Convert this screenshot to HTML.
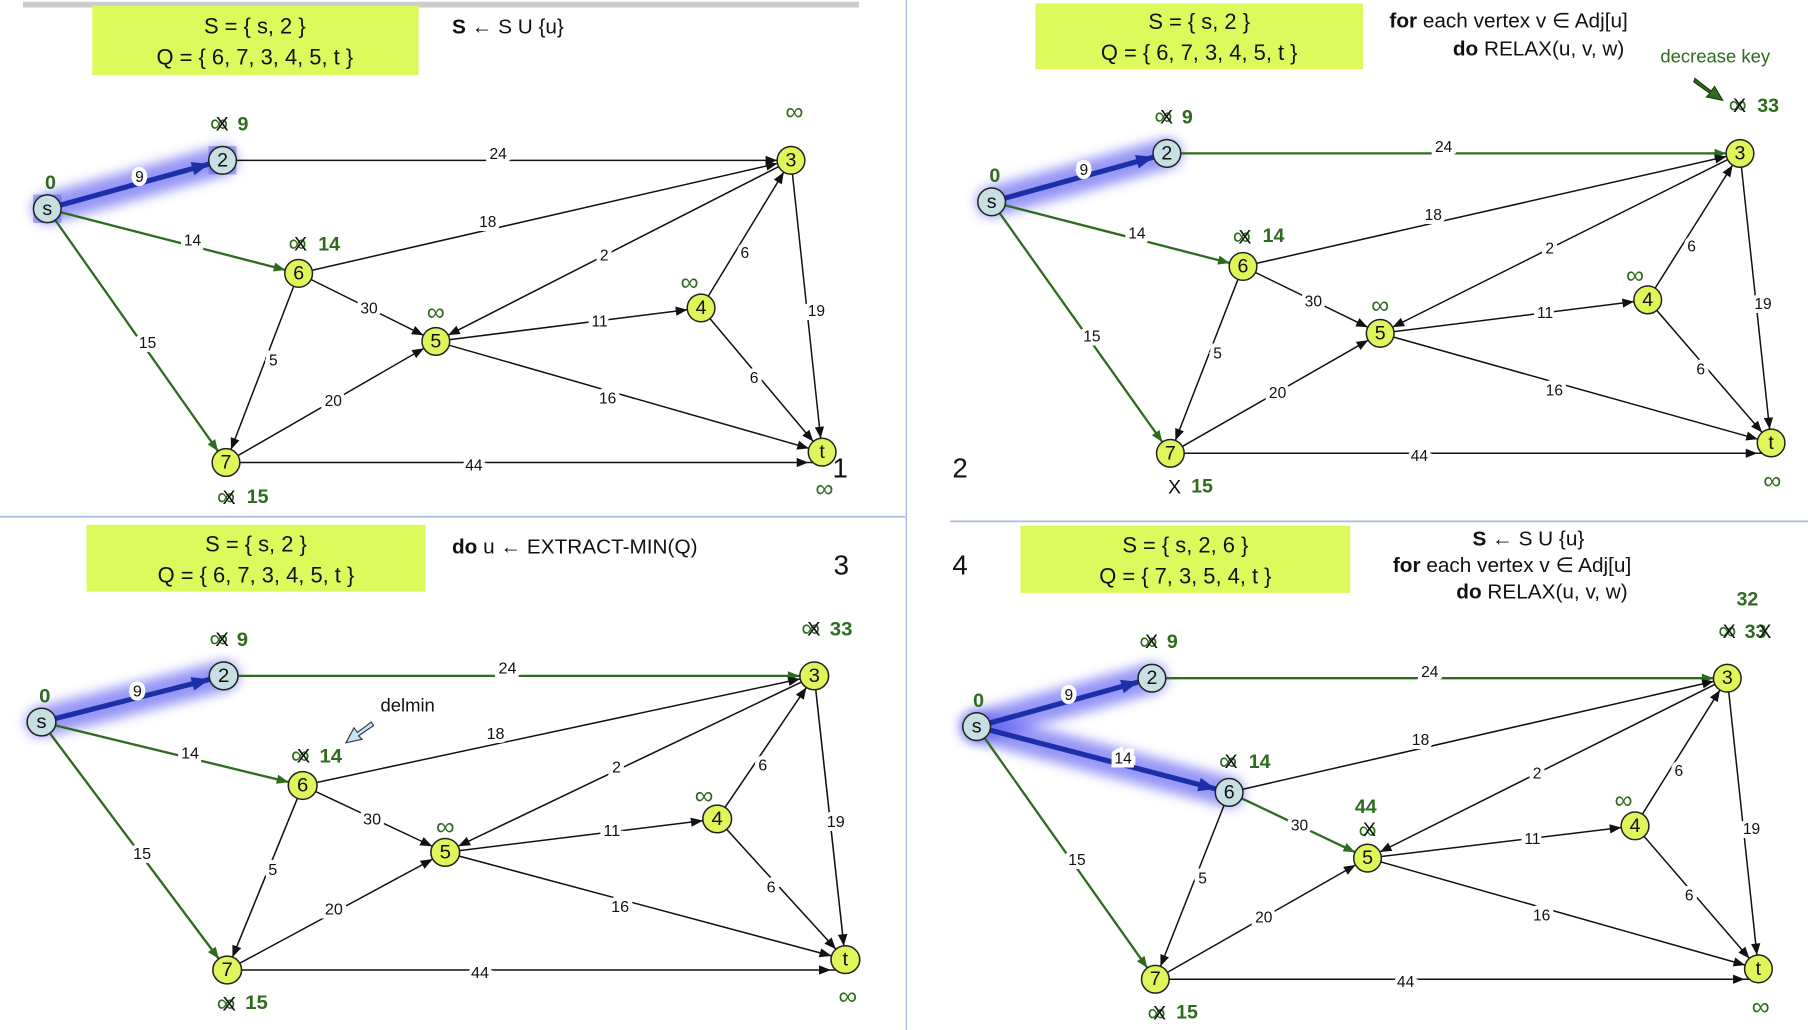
<!DOCTYPE html>
<html><head><meta charset="utf-8"><style>
html,body{margin:0;padding:0;background:#fff;}
svg{display:block;font-family:"Liberation Sans","DejaVu Sans",sans-serif;}
.k{stroke:#111;stroke-width:1.3;marker-end:url(#ak);fill:none}
.g{stroke:#2f6b1f;stroke-width:2;marker-end:url(#ag);fill:none}
.b{stroke:#1a2fa8;stroke-width:4.5;marker-end:url(#ab);fill:none}
.gl{stroke:#5050f0;stroke-width:26;opacity:.6;stroke-linecap:round;filter:url(#bl)}
.el{font-size:13.5px;text-anchor:middle;dominant-baseline:central;paint-order:stroke;stroke:#fff;stroke-width:7px;fill:#111}
.n{stroke:#222;stroke-width:1.3;fill:#e0f55a;r:12px}
.nb{stroke:#222;stroke-width:1.3;fill:#c6dfe3;r:12px}
.nt{font-size:17px;text-anchor:middle;dominant-baseline:central;fill:#111}
.d{font-size:17px;font-weight:bold;fill:#2f6b1f}
.inf{font-size:22px;fill:#2f6b1f;text-anchor:middle}
.x{font-size:17px;fill:#111}
.bx{fill:#dcfa5c}
.bt{font-size:19px;text-anchor:middle;fill:#111}
.tt{font-size:18px;fill:#111}
.big{font-size:24px;fill:#111}
</style></head><body>
<svg width="1808" height="1030" viewBox="0 0 1568 893" preserveAspectRatio="none">
<defs>
<marker id="ak" markerUnits="userSpaceOnUse" markerWidth="40" markerHeight="20" refX="22" refY="4" orient="auto" viewBox="0 0 40 20" overflow="visible"><path d="M0,0 L10,4 L0,8z" fill="#111"/></marker>
<marker id="ag" markerUnits="userSpaceOnUse" markerWidth="40" markerHeight="20" refX="22" refY="4" orient="auto" viewBox="0 0 40 20" overflow="visible"><path d="M0,0 L10,4 L0,8z" fill="#2f6b1f"/></marker>
<marker id="ab" markerUnits="userSpaceOnUse" markerWidth="40" markerHeight="20" refX="27" refY="6" orient="auto" viewBox="0 0 40 20" overflow="visible"><path d="M0,0 L15,6 L0,12z" fill="#1a2fa8"/></marker>
<filter id="bl" x="-50%" y="-50%" width="200%" height="200%"><feGaussianBlur stdDeviation="5"/></filter>
</defs>
<line x1="20" y1="4" x2="745" y2="4" stroke="#ccc" stroke-width="5"/>
<line x1="786" y1="0" x2="786" y2="893" stroke="#a8bde0" stroke-width="1.2"/>
<line x1="0" y1="448" x2="785" y2="448" stroke="#a8bde0" stroke-width="1.5"/>
<line x1="824" y1="452" x2="1568" y2="452" stroke="#a8bde0" stroke-width="1.5"/>

<!-- Q1 -->
<g>
<rect class="bx" x="80" y="5" width="283" height="60"/>
<text class="bt" x="221" y="29">S = { s, 2 }</text>
<text class="bt" x="221" y="56">Q = { 6, 7, 3, 4, 5, t }</text>
<text class="tt" x="392" y="29"><tspan font-weight="bold">S</tspan> ← S U {u}</text>
<text class="big" x="722" y="414">1</text>
<circle class="gl" cx="41" cy="181" r="6"/><circle class="gl" cx="193" cy="139" r="6"/>
<line class="gl" x1="41" y1="181" x2="193" y2="139"/>
<line class="b" x1="41" y1="181" x2="193" y2="139"/>
<line class="k" x1="193" y1="139" x2="686" y2="139"/>
<line class="g" x1="41" y1="181" x2="259" y2="237"/>
<line class="g" x1="41" y1="181" x2="196" y2="401"/>
<line class="k" x1="259" y1="237" x2="686" y2="139"/>
<line class="k" x1="259" y1="237" x2="378" y2="296"/>
<line class="k" x1="259" y1="237" x2="196" y2="401"/>
<line class="k" x1="686" y1="139" x2="378" y2="296"/>
<line class="k" x1="608" y1="267" x2="686" y2="139"/>
<line class="k" x1="378" y1="296" x2="608" y2="267"/>
<line class="k" x1="686" y1="139" x2="713" y2="392"/>
<line class="k" x1="608" y1="267" x2="713" y2="392"/>
<line class="k" x1="378" y1="296" x2="713" y2="392"/>
<line class="k" x1="196" y1="401" x2="378" y2="296"/>
<line class="k" x1="196" y1="401" x2="713" y2="401"/>
<text class="el" x="121" y="154">9</text><text class="el" x="432" y="134">24</text><text class="el" x="167" y="209">14</text>
<text class="el" x="128" y="298">15</text><text class="el" x="423" y="193">18</text><text class="el" x="320" y="268">30</text>
<text class="el" x="237" y="313">5</text><text class="el" x="524" y="222">2</text><text class="el" x="646" y="220">6</text>
<text class="el" x="520" y="279">11</text><text class="el" x="708" y="270">19</text><text class="el" x="654" y="328">6</text>
<text class="el" x="527" y="346">16</text><text class="el" x="289" y="348">20</text><text class="el" x="411" y="404">44</text>
<circle class="nb" cx="41" cy="181" r="12"/><text class="nt" x="41" y="181">s</text>
<circle class="nb" cx="193" cy="139" r="12"/><text class="nt" x="193" y="139">2</text>
<circle class="n" cx="686" cy="139" r="12"/><text class="nt" x="686" y="139">3</text>
<circle class="n" cx="259" cy="237" r="12"/><text class="nt" x="259" y="237">6</text>
<circle class="n" cx="378" cy="296" r="12"/><text class="nt" x="378" y="296">5</text>
<circle class="n" cx="608" cy="267" r="12"/><text class="nt" x="608" y="267">4</text>
<circle class="n" cx="196" cy="401" r="12"/><text class="nt" x="196" y="401">7</text>
<circle class="n" cx="713" cy="392" r="12"/><text class="nt" x="713" y="392">t</text>
<text class="d" x="39" y="164">0</text>
<text class="inf" x="190" y="114">∞</text><text class="x" x="187" y="113">X</text><text class="d" x="206" y="113">9</text>
<text class="inf" x="258" y="218">∞</text><text class="x" x="255" y="217">X</text><text class="d" x="276" y="217">14</text>
<text class="inf" x="196" y="438">∞</text><text class="x" x="193" y="437">X</text><text class="d" x="214" y="436">15</text>
<text class="inf" x="689" y="104">∞</text><text class="inf" x="378" y="278">∞</text><text class="inf" x="598" y="252">∞</text><text class="inf" x="715" y="431">∞</text>
</g>

<!-- Q2 -->
<g>
<rect class="bx" x="898" y="3" width="284" height="57"/>
<text class="bt" x="1040" y="25">S = { s, 2 }</text>
<text class="bt" x="1040" y="52">Q = { 6, 7, 3, 4, 5, t }</text>
<text class="tt" x="1205" y="24"><tspan font-weight="bold">for</tspan> each vertex v ∈ Adj[u]</text>
<text class="tt" x="1260" y="48"><tspan font-weight="bold">do</tspan> RELAX(u, v, w)</text>
<text x="1440" y="54" font-size="16" fill="#2f6b1f">decrease key</text>
<path d="M1470,68 L1484,79 L1487,75 L1494,87 L1480,84 L1483,81 L1469,71z" fill="#2f6b1f" stroke="#1a3a10"/>
<text class="big" x="826" y="414">2</text>
</g>
<g transform="translate(819,-6)">
<line class="gl" x1="41" y1="181" x2="193" y2="139"/>
<line class="b" x1="41" y1="181" x2="193" y2="139"/>
<line class="g" x1="193" y1="139" x2="690" y2="139"/>
<line class="g" x1="41" y1="181" x2="259" y2="237"/>
<line class="g" x1="41" y1="181" x2="196" y2="399"/>
<line class="k" x1="259" y1="237" x2="690" y2="139"/>
<line class="k" x1="259" y1="237" x2="378" y2="295"/>
<line class="k" x1="259" y1="237" x2="196" y2="399"/>
<line class="k" x1="690" y1="139" x2="378" y2="295"/>
<line class="k" x1="610" y1="266" x2="690" y2="139"/>
<line class="k" x1="378" y1="295" x2="610" y2="266"/>
<line class="k" x1="690" y1="139" x2="717" y2="390"/>
<line class="k" x1="610" y1="266" x2="717" y2="390"/>
<line class="k" x1="378" y1="295" x2="717" y2="390"/>
<line class="k" x1="196" y1="399" x2="378" y2="295"/>
<line class="k" x1="196" y1="399" x2="717" y2="399"/>
<text class="el" x="121" y="154">9</text><text class="el" x="433" y="134">24</text><text class="el" x="167" y="209">14</text>
<text class="el" x="128" y="298">15</text><text class="el" x="424" y="193">18</text><text class="el" x="320" y="268">30</text>
<text class="el" x="237" y="313">5</text><text class="el" x="525" y="222">2</text><text class="el" x="648" y="220">6</text>
<text class="el" x="521" y="278">11</text><text class="el" x="710" y="270">19</text><text class="el" x="656" y="327">6</text>
<text class="el" x="529" y="345">16</text><text class="el" x="289" y="347">20</text><text class="el" x="412" y="402">44</text>
<circle class="nb" cx="41" cy="181" r="12"/><text class="nt" x="41" y="181">s</text>
<circle class="nb" cx="193" cy="139" r="12"/><text class="nt" x="193" y="139">2</text>
<circle class="n" cx="690" cy="139" r="12"/><text class="nt" x="690" y="139">3</text>
<circle class="n" cx="259" cy="237" r="12"/><text class="nt" x="259" y="237">6</text>
<circle class="n" cx="378" cy="295" r="12"/><text class="nt" x="378" y="295">5</text>
<circle class="n" cx="610" cy="266" r="12"/><text class="nt" x="610" y="266">4</text>
<circle class="n" cx="196" cy="399" r="12"/><text class="nt" x="196" y="399">7</text>
<circle class="n" cx="717" cy="390" r="12"/><text class="nt" x="717" y="390">t</text>
<text class="d" x="39" y="164">0</text>
<text class="inf" x="190" y="114">∞</text><text class="x" x="187" y="113">X</text><text class="d" x="206" y="113">9</text>
<text class="inf" x="258" y="218">∞</text><text class="x" x="255" y="217">X</text><text class="d" x="276" y="216">14</text>
<text class="x" x="194" y="434">X</text><text class="d" x="214" y="433">15</text>
<text class="inf" x="688" y="104">∞</text><text class="x" x="684" y="103">X</text><text class="d" x="705" y="103">33</text>
<text class="inf" x="378" y="278">∞</text><text class="inf" x="599" y="252">∞</text><text class="inf" x="718" y="430">∞</text>
</g>

<!-- Q3 -->
<g>
<rect class="bx" x="75" y="455" width="294" height="58"/>
<text class="bt" x="222" y="478">S = { s, 2 }</text>
<text class="bt" x="222" y="505">Q = { 6, 7, 3, 4, 5, t }</text>
<text class="tt" x="392" y="480"><tspan font-weight="bold">do</tspan> u ← EXTRACT-MIN(Q)</text>
<text class="big" x="723" y="498">3</text>
<text x="330" y="617" font-size="16" fill="#111">delmin</text>
<path d="M322,626 L310,635 L307,631 L300,644 L314,641 L311,638 L324,629z" fill="#c6e6ee" stroke="#335"/>
</g>
<g transform="translate(36,626) scale(1.039,1) translate(-41,-181)">
<line class="gl" x1="41" y1="181" x2="193" y2="141"/>
<line class="b" x1="41" y1="181" x2="193" y2="141"/>
<line class="g" x1="193" y1="141" x2="686" y2="141"/>
<line class="g" x1="41" y1="181" x2="259" y2="236"/>
<line class="g" x1="41" y1="181" x2="196" y2="396"/>
<line class="k" x1="259" y1="236" x2="686" y2="141"/>
<line class="k" x1="259" y1="236" x2="378" y2="294"/>
<line class="k" x1="259" y1="236" x2="196" y2="396"/>
<line class="k" x1="686" y1="141" x2="378" y2="294"/>
<line class="k" x1="605" y1="265" x2="686" y2="141"/>
<line class="k" x1="378" y1="294" x2="605" y2="265"/>
<line class="k" x1="686" y1="141" x2="712" y2="387"/>
<line class="k" x1="605" y1="265" x2="712" y2="387"/>
<line class="k" x1="378" y1="294" x2="712" y2="387"/>
<line class="k" x1="196" y1="396" x2="378" y2="294"/>
<line class="k" x1="196" y1="396" x2="712" y2="396"/>
<text class="el" x="121" y="155">9</text><text class="el" x="430" y="135">24</text><text class="el" x="165" y="209">14</text>
<text class="el" x="125" y="296">15</text><text class="el" x="420" y="192">18</text><text class="el" x="317" y="266">30</text>
<text class="el" x="234" y="310">5</text><text class="el" x="521" y="221">2</text><text class="el" x="643" y="219">6</text>
<text class="el" x="517" y="276">11</text><text class="el" x="704" y="268">19</text><text class="el" x="650" y="325">6</text>
<text class="el" x="524" y="342">16</text><text class="el" x="285" y="344">20</text><text class="el" x="407" y="399">44</text>
<circle class="nb" cx="41" cy="181" r="12"/><text class="nt" x="41" y="181">s</text>
<circle class="nb" cx="193" cy="141" r="12"/><text class="nt" x="193" y="141">2</text>
<circle class="n" cx="686" cy="141" r="12"/><text class="nt" x="686" y="141">3</text>
<circle class="n" cx="259" cy="236" r="12"/><text class="nt" x="259" y="236">6</text>
<circle class="n" cx="378" cy="294" r="12"/><text class="nt" x="378" y="294">5</text>
<circle class="n" cx="605" cy="265" r="12"/><text class="nt" x="605" y="265">4</text>
<circle class="n" cx="196" cy="396" r="12"/><text class="nt" x="196" y="396">7</text>
<circle class="n" cx="712" cy="387" r="12"/><text class="nt" x="712" y="387">t</text>
<text class="d" x="39" y="164">0</text>
<text class="inf" x="189" y="116">∞</text><text class="x" x="186" y="115">X</text><text class="d" x="204" y="115">9</text>
<text class="inf" x="257" y="217">∞</text><text class="x" x="254" y="216">X</text><text class="d" x="273" y="216">14</text>
<text class="inf" x="195" y="432">∞</text><text class="x" x="192" y="431">X</text><text class="d" x="211" y="430">15</text>
<text class="inf" x="683" y="107">∞</text><text class="x" x="680" y="106">X</text><text class="d" x="699" y="106">33</text>
<text class="inf" x="378" y="279">∞</text><text class="inf" x="594" y="252">∞</text><text class="inf" x="714" y="426">∞</text>
</g>

<!-- Q4 -->
<g>
<rect class="bx" x="885" y="456" width="286" height="58"/>
<text class="bt" x="1028" y="479">S = { s, 2, 6 }</text>
<text class="bt" x="1028" y="506">Q = { 7, 3, 5, 4, t }</text>
<text class="tt" x="1277" y="473"><tspan font-weight="bold">S</tspan> ← S U {u}</text>
<text class="tt" x="1208" y="496"><tspan font-weight="bold">for</tspan> each vertex v ∈ Adj[u]</text>
<text class="tt" x="1263" y="519"><tspan font-weight="bold">do</tspan> RELAX(u, v, w)</text>
<text class="big" x="826" y="498">4</text>
</g>
<g transform="translate(806,449)">
<line class="gl" x1="41" y1="181" x2="193" y2="139"/>
<line class="gl" x1="41" y1="181" x2="260" y2="238"/>
<line class="b" x1="41" y1="181" x2="193" y2="139"/>
<line class="b" x1="41" y1="181" x2="260" y2="238"/>
<line class="g" x1="193" y1="139" x2="692" y2="139"/>
<line class="g" x1="41" y1="181" x2="196" y2="400"/>
<line class="k" x1="260" y1="238" x2="692" y2="139"/>
<line class="g" x1="260" y1="238" x2="380" y2="295"/>
<line class="k" x1="260" y1="238" x2="196" y2="400"/>
<line class="k" x1="692" y1="139" x2="380" y2="295"/>
<line class="k" x1="612" y1="267" x2="692" y2="139"/>
<line class="k" x1="380" y1="295" x2="612" y2="267"/>
<line class="k" x1="692" y1="139" x2="719" y2="391"/>
<line class="k" x1="612" y1="267" x2="719" y2="391"/>
<line class="k" x1="380" y1="295" x2="719" y2="391"/>
<line class="k" x1="196" y1="400" x2="380" y2="295"/>
<line class="k" x1="196" y1="400" x2="719" y2="400"/>
<text class="el" x="121" y="154">9</text><text class="el" x="434" y="134">24</text><text class="el" x="168" y="209">14</text>
<text class="el" x="128" y="297">15</text><text class="el" x="426" y="193">18</text><text class="el" x="321" y="267">30</text>
<text class="el" x="237" y="313">5</text><text class="el" x="527" y="222">2</text><text class="el" x="650" y="220">6</text>
<text class="el" x="523" y="279">11</text><text class="el" x="713" y="270">19</text><text class="el" x="659" y="328">6</text>
<text class="el" x="531" y="345">16</text><text class="el" x="290" y="347">20</text><text class="el" x="413" y="403">44</text>
<circle class="gl" cx="260" cy="238" r="4"/>
<circle class="nb" cx="41" cy="181" r="12"/><text class="nt" x="41" y="181">s</text>
<circle class="nb" cx="193" cy="139" r="12"/><text class="nt" x="193" y="139">2</text>
<circle class="n" cx="692" cy="139" r="12"/><text class="nt" x="692" y="139">3</text>
<circle class="nb" cx="260" cy="238" r="12"/><text class="nt" x="260" y="238">6</text>
<circle class="n" cx="380" cy="295" r="12"/><text class="nt" x="380" y="295">5</text>
<circle class="n" cx="612" cy="267" r="12"/><text class="nt" x="612" y="267">4</text>
<circle class="n" cx="196" cy="400" r="12"/><text class="nt" x="196" y="400">7</text>
<circle class="n" cx="719" cy="391" r="12"/><text class="nt" x="719" y="391">t</text>
<text class="d" x="38" y="164">0</text>
<text class="inf" x="190" y="114">∞</text><text class="x" x="187" y="113">X</text><text class="d" x="206" y="113">9</text>
<text class="inf" x="259" y="218">∞</text><text class="x" x="256" y="217">X</text><text class="d" x="277" y="217">14</text>
<text class="inf" x="197" y="436">∞</text><text class="x" x="194" y="435">X</text><text class="d" x="214" y="434">15</text>
<text class="d" x="700" y="76">32</text>
<text class="inf" x="692" y="105">∞</text><text class="x" x="688" y="104">X</text><text class="d" x="707" y="104">33</text><text class="x" x="719" y="104">X</text>
<text class="d" x="369" y="256">44</text><text class="inf" x="380" y="278">∞</text><text class="x" x="376" y="276">X</text>
<text class="inf" x="602" y="252">∞</text><text class="inf" x="721" y="431">∞</text>
</g>
</svg>
</body></html>
